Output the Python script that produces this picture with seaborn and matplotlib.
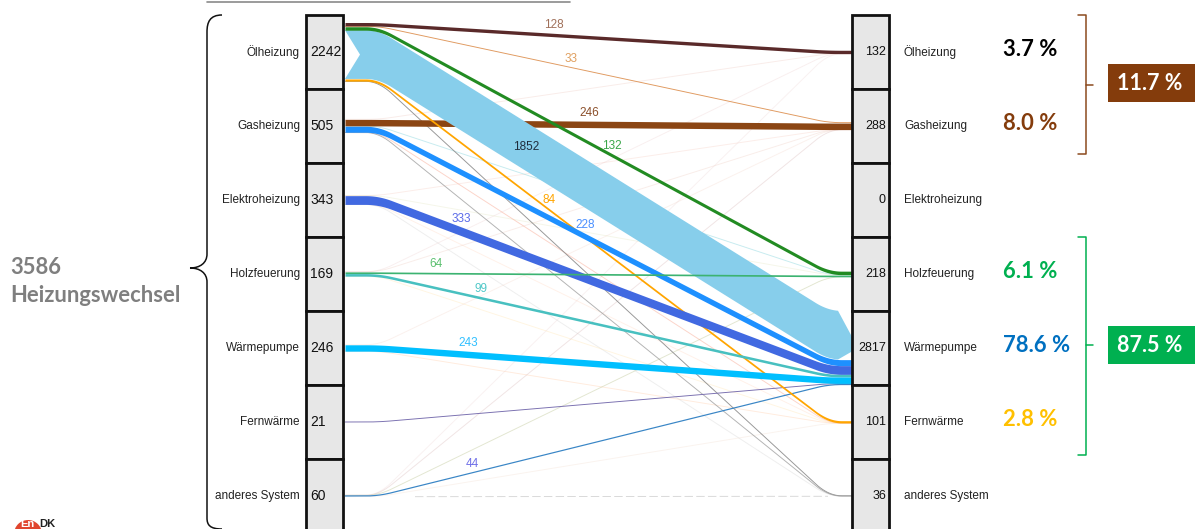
import numpy as np
import matplotlib
matplotlib.use("Agg")
import matplotlib.pyplot as plt
from matplotlib.patches import Rectangle, PathPatch, Circle
from matplotlib.path import Path
import seaborn as sns

# ---------------- data ----------------
nodes = ["Ölheizung", "Gasheizung", "Elektroheizung", "Holzfeuerung",
         "Wärmepumpe", "Fernwärme", "anderes System"]
left_totals = [2242, 505, 343, 169, 246, 21, 60]
right_totals = [132, 288, 0, 218, 2817, 101, 36]
right_pct = ["3.7 %", "8.0 %", "", "6.1 %", "78.6 %", "2.8 %", ""]
group_pct = ["11.7 %", "87.5 %"]
total_caption = "Heizungswechsel"

flow_src = [1, 2, 2, 2, 2, 3, 3, 3, 4, 4, 6, 6, 6, 6, 1, 1, 6, 0, 1,
            0, 0, 1, 0, 0, 0, 1, 2, 3, 3, 4, 5, 6]
flow_dst = [0, 1, 3, 5, 6, 0, 1, 5, 1, 5, 0, 1, 3, 5, 3, 5, 6, 6, 6,
            0, 1, 1, 4, 3, 5, 4, 4, 3, 4, 4, 4, 4]
flow_val = [2, 2, 4, 2, 2, 1, 3, 2, 1, 2, 1, 3, 3, 2, 14, 8, 7, 13, 7,
            128, 33, 246, 1852, 132, 84, 228, 333, 64, 99, 243, 21, 44]
flow_labeled = [False] * 19 + [True] * 11 + [False, True]

# ---------------- styles ----------------
flow_color = ['#e8b4a8', '#f2b8a8', '#d8dca8', '#ffc8a8', '#c8c8c8', '#e8c0c0',
              '#e8b8a8', '#ffe0a0', '#f0c8b8', '#ffc8a0', '#e8c8c8', '#d0a8a8',
              '#c0c898', '#f0d8c8', '#8fd8e0', '#f8a088', '#d8d8d8', '#8c8c8c',
              '#a0a0a0',
              '#5a2a2a', '#e09a60', '#8b4513', '#87ceeb', '#228b22', '#ffa500',
              '#1e90ff', '#4169e1', '#3cb371', '#48c0c0', '#00bfff', '#7a70b0',
              '#3a86c6']
flow_alpha = [0.25, 0.25, 0.25, 0.25, 0.3, 0.25, 0.25, 0.3, 0.25, 0.35, 0.25,
              0.3, 0.45, 0.3, 0.5, 0.45, 1.0, 0.9, 0.8] + [1.0] * 13
flow_dashed = [False] * 16 + [True] + [False] * 15
label_frac = [None] * 19 + [0.39, 0.43, 0.47, 0.33, 0.52, 0.38, 0.46, 0.185,
                            0.13, 0.23, 0.20, None, 0.21]
label_color = [None] * 19 + ['#a0705a', '#e0a060', '#8b4f2a', '#1f2d3d',
                             '#3aa64a', '#ffa500', '#4a90ff', '#5a6ae8',
                             '#5cc070', '#50c8c8', '#30c0ff', None, '#7070e8']

# ---------------- layout (pixel space) ----------------
W_PX, H_PX = 1195, 529
ROW0, STEP, BOX_H = 52, 74, 74
LBOX_X, RBOX_X, BOX_W = 306, 852, 37
XL0, XL1, XR1, XR0 = 345, 378, 828, 852
SCALE = 38.0   # persons per pixel of ribbon height
SMOOTH = 26

sns.set_theme(style="white")
plt.rcParams['font.family'] = ['Liberation Sans', 'DejaVu Sans']

fig = plt.figure(figsize=(W_PX / 100, H_PX / 100), dpi=100)
ax = fig.add_axes([0, 0, 1, 1])
ax.set_xlim(0, W_PX)
ax.set_ylim(H_PX, 0)
ax.axis('off')

n = len(nodes)
centers = [ROW0 + i * STEP for i in range(n)]

# stacking
out_sum = [0.0] * n
in_sum = [0.0] * n
for s, d, v in zip(flow_src, flow_dst, flow_val):
    out_sum[s] += v
    in_sum[d] += v
left_cursor = [centers[i] - out_sum[i] / SCALE / 2 for i in range(n)]
right_cursor = [centers[i] - in_sum[i] / SCALE / 2 for i in range(n)]

idx = list(range(len(flow_val)))
yl = [0.0] * len(idx)
yr = [0.0] * len(idx)
for k in sorted(idx, key=lambda k: (flow_src[k], flow_dst[k])):
    h = flow_val[k] / SCALE
    yl[k] = left_cursor[flow_src[k]] + h / 2
    left_cursor[flow_src[k]] += h
for k in sorted(idx, key=lambda k: (flow_dst[k], flow_src[k])):
    h = flow_val[k] / SCALE
    yr[k] = right_cursor[flow_dst[k]] + h / 2
    right_cursor[flow_dst[k]] += h

xs = np.arange(XL0, XR0 + 1, 1.0)


def centerline(y0, y1):
    base = np.interp(xs, [XL0, XL1, XR1, XR0], [y0, y0, y1, y1])
    pad = np.pad(base, SMOOTH, mode='edge')
    sm = np.convolve(pad, np.ones(SMOOTH) / SMOOTH, mode='same')
    return sm[SMOOTH:-SMOOTH]


for k in idx:
    v = flow_val[k]
    h = v / SCALE
    y = centerline(yl[k], yr[k])
    col = flow_color[k]
    if h > 20:
        tipx = XR0 - 14
        m = xs <= tipx
        top = y[m] - h / 2
        bot = y[m] + h / 2
        px = [XL0] + list(xs[m]) + [XR0 + 6] + list(xs[m][::-1]) + [XL0, XL0 + 15]
        py = [top[0]] + list(top) + [centers[flow_dst[k]]] + list(bot[::-1]) + [bot[0], yl[k]]
        ax.fill(px, py, color=col, lw=0, zorder=3)
    elif h >= 1.6:
        ax.fill_between(xs, y - h / 2, y + h / 2, color=col, lw=0,
                        alpha=flow_alpha[k], zorder=3)
    else:
        ls = (0, (9, 3.5)) if flow_dashed[k] else '-'
        x_use = xs
        y_use = y
        if flow_dashed[k]:
            mm = (xs >= XL0 + 70) & (xs <= XR1)
            x_use, y_use = xs[mm], y[mm]
        ax.plot(x_use, y_use, color=col, lw=max(h, 0.9) * 0.75,
                alpha=flow_alpha[k], ls=ls, zorder=2, solid_capstyle='butt')
    if flow_labeled[k] and label_frac[k] is not None:
        lx = XL1 + label_frac[k] * (XR1 - XL1)
        ly = np.interp(lx, xs, y)
        if h > 20:
            ty = ly
        else:
            ty = ly - h / 2 - 8
        ax.text(lx, ty, str(v), color=label_color[k], fontsize=8.5,
                ha='center', va='center', zorder=6)

# node boxes and labels
for i in range(n):
    c = centers[i]
    for bx in (LBOX_X, RBOX_X):
        ax.add_patch(Rectangle((bx, c - BOX_H / 2), BOX_W, BOX_H,
                               facecolor='#e7e7e7', edgecolor='#111111',
                               lw=2.0, zorder=4))
    ax.text(LBOX_X - 6, c, nodes[i], ha='right', va='center', fontsize=8.5,
            color='#222222', zorder=5)
    ax.text(LBOX_X + 4, c, str(left_totals[i]), ha='left', va='center',
            fontsize=10, color='#111111', zorder=5)
    ax.text(RBOX_X + BOX_W - 3, c, str(right_totals[i]), ha='right',
            va='center', fontsize=9, color='#111111', zorder=5)
    ax.text(RBOX_X + BOX_W + 15, c, nodes[i], ha='left', va='center',
            fontsize=8.5, color='#222222', zorder=5)

pct_colors = ['#000000', '#843c0c', None, '#00b050', '#0070c0', '#ffc000', None]
for i in range(n):
    if right_pct[i]:
        ax.text(1003, centers[i] - 2, right_pct[i], ha='left', va='center',
                fontsize=15.8, fontweight='bold', color=pct_colors[i],
                family=['Lato', 'DejaVu Sans'])

# right brackets
def bracket(y0, y1, ytip, col):
    ax.plot([1078, 1086, 1086, 1078], [y0, y0, y1, y1], color=col, lw=1.1)
    ax.plot([1086, 1093], [ytip, ytip], color=col, lw=1.1)

bracket(centers[0] - 37, centers[1] + 28, (centers[0] + centers[1]) / 2 - 4, '#8b4a1e')
bracket(centers[3] - 37, centers[5] + 33, centers[4] - 3, '#00b050')

group_colors = ['#843c0c', '#00b050']
group_y = [(centers[0] + centers[1]) / 2 - 6, centers[4] - 3]
for g, gy, gc in zip(group_pct, group_y, group_colors):
    ax.add_patch(Rectangle((1108, gy - 19), 90, 38, facecolor=gc,
                           edgecolor='none', zorder=4))
    ax.text(1150, gy, g, ha='center', va='center', color='white',
            fontsize=15.5, fontweight='bold', zorder=5,
            family=['Lato', 'DejaVu Sans'])

# left caption and curly brace
ax.text(10, 268, str(sum(left_totals)), ha='left', va='center', fontsize=15.8,
        fontweight='bold', color='#7f7f7f', family=['Lato', 'DejaVu Sans'])
ax.text(10, 296, total_caption, ha='left', va='center', fontsize=15.8,
        fontweight='bold', color='#7f7f7f', family=['Lato', 'DejaVu Sans'])

tip_y = 268
verts = [(222, 15), (210, 15), (207, 22), (207, 32),
         (207, tip_y - 14),
         (207, tip_y - 5), (200, tip_y), (190, tip_y),
         (200, tip_y), (207, tip_y + 5), (207, tip_y + 14),
         (207, 518),
         (207, 525), (210, 529), (222, 529)]
codes = [Path.MOVETO, Path.CURVE4, Path.CURVE4, Path.CURVE4,
         Path.LINETO,
         Path.CURVE4, Path.CURVE4, Path.CURVE4,
         Path.CURVE4, Path.CURVE4, Path.CURVE4,
         Path.LINETO,
         Path.CURVE4, Path.CURVE4, Path.CURVE4]
ax.add_patch(PathPatch(Path(verts, codes), facecolor='none',
                       edgecolor='#111111', lw=1.1))

# top rule
ax.plot([207, 570], [2, 2], color='#8a8a8a', lw=1.2)

# logo fragment
ax.add_patch(Circle((28, 534), 14, facecolor='#e0452e', edgecolor='none',
                    zorder=5))
ax.text(20, 529, "En", color='white', fontsize=8, fontweight='bold',
        ha='left', va='bottom', zorder=6)
ax.text(39, 529, "DK", color='#222222', fontsize=8, fontweight='bold',
        ha='left', va='bottom', zorder=6)

fig.savefig("out.png", dpi=100)
